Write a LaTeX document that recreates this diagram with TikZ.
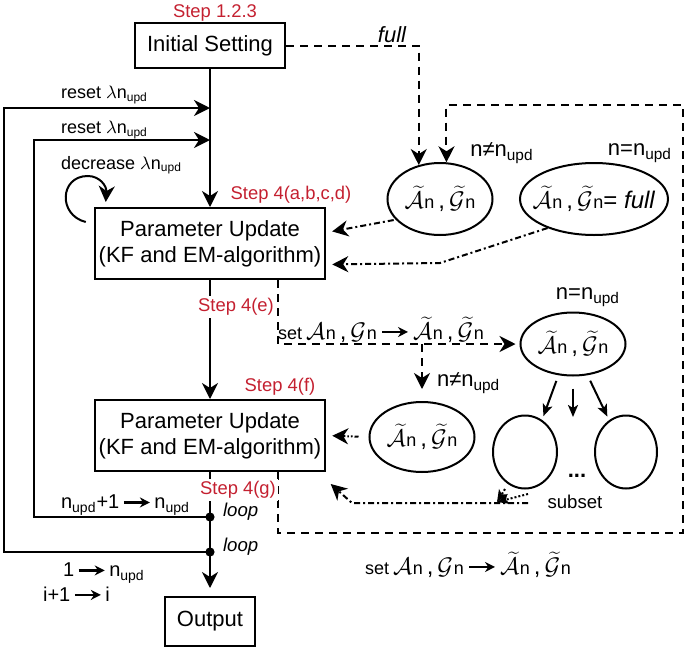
\documentclass[tikz,border=0pt]{standalone}
\usepackage{fontspec}
\setmainfont{Liberation Sans}
\usetikzlibrary{arrows.meta,shapes.geometric,positioning,calc}
\definecolor{stepred}{RGB}{196,32,48}
\newcommand\nupd{n\textsubscript{upd}}
\newcommand\tAn{$\widetilde{\mathcal{A}}$\kern.3pt{\small n}}
\newcommand\tGn{$\widetilde{\mathcal{G}}$\kern.3pt{\small n}}
\newcommand\An{$\mathcal{A}$\kern.3pt{\small n}}
\newcommand\Gn{$\mathcal{G}$\kern.3pt{\small n}}
\newcommand\setarr{\,\tikz[baseline=-0.6ex]\draw[solid,line width=1.2pt,-{Stealth[length=5pt,width=5pt]}] (0pt,0pt) -- (13pt,0pt);\,}
\tikzset{
    flow/.style={line width=1pt,-{Stealth[length=8pt,width=8pt,inset=2.5pt]}},
    smallflow/.style={line width=1pt,-{Stealth[length=6pt,width=5pt,inset=1.5pt]}},
    procbox/.style={draw,line width=1pt,inner sep=2pt,align=center,font=\fontsize{11}{13}\selectfont},
    setell/.style={draw,ellipse,line width=1pt,inner sep=0pt,font=\fontsize{12}{14}\selectfont},
    stepnote/.style={text=stepred,font=\fontsize{9.2}{11}\selectfont},
    sidenote/.style={font=\fontsize{9}{11}\selectfont},
    condnote/.style={font=\fontsize{11}{13}\selectfont},
    dashln/.style={dash pattern=on 4pt off 3pt},
    dashdotln/.style={dash pattern=on 3pt off 1.5pt on 1pt off 1.5pt},
    dashdotdotln/.style={dash pattern=on 2pt off 1pt on 0.8pt off 1pt on 0.8pt off 1pt},
    dotln/.style={dash pattern=on 1pt off 1pt}
}
\begin{document}
\begin{tikzpicture}[x=0.5pt,y=-0.5pt]
    \useasboundingbox (0,0) rectangle (687,649);
    \node[procbox,minimum width=75pt,minimum height=22.5pt] (init) at (210,45.5) {Initial Setting};
    \node[procbox,minimum width=105pt,minimum height=35.5pt] (par1) at (210,243.5) {Parameter Update\\(KF and EM-algorithm)};
    \node[procbox,minimum width=105pt,minimum height=35.5pt] (par2) at (210,435.5) {Parameter Update\\(KF and EM-algorithm)};
    \node[procbox,minimum width=45pt,minimum height=24.5pt] (out) at (210,621.5) {Output};

    \node[setell,minimum width=52.5pt,minimum height=36pt,inner xsep=-3pt] (ell1) at (440,199) {\tAn\,,\,\tGn};
    \node[setell,minimum width=74pt,minimum height=36pt,inner xsep=-9pt] (ell2) at (594,199) {\tAn\,,\,\tGn= \textit{full}};
    \node[setell,minimum width=52.5pt,minimum height=31.5pt,inner xsep=-3pt] (ell3) at (573,344) {\tAn\,,\,\tGn};
    \node[setell,minimum width=52.5pt,minimum height=35pt,inner xsep=-3pt] (ell4) at (422,437) {\tAn\,,\,\tGn};
    \node[setell,minimum width=32pt,minimum height=36.5pt] (sub1) at (525,452) {};
    \node[setell,minimum width=31pt,minimum height=36.5pt] (sub2) at (626,452) {};

    \coordinate (rstA) at (210,108);
    \coordinate (rstB) at (210,140);
    \coordinate (dotA) at (210,517);
    \coordinate (dotB) at (210,552);
    \coordinate (p1tap) at ($(par1.south east)+(-48,0)$);
    \coordinate (p2tap) at ($(par2.south east)+(-48,0)$);
    \coordinate (fork) at (ell4.north |- ell3.west);
    \coordinate (midtip) at (573,417);
    \coordinate (subA) at (505,489);
    \coordinate (subB) at (528,494);
    \coordinate (subtip) at (497,502);
    \coordinate (subR) at (528,503);

    \draw[flow] (init) -- (par1);
    \draw[flow] (par1) -- (par2);
    \draw[line width=1pt] (par2) -- (dotA) -- (dotB);
    \draw[flow,shorten >=4pt] (dotB) -- (out);
    \draw[flow] (dotB) -- (4,552) -- (4,108) -- (rstA);
    \draw[flow] (dotA) -- (34,517) -- (34,140) -- (rstB);
    \fill (dotA) circle[radius=2.3pt];
    \fill (dotB) circle[radius=2.3pt];
    \draw[flow] ($(par1.north west)+(-8,15)$) .. controls ($(par1.north west)+(-36,8)$) and ($(par1.north west)+(-34,-31)$) .. ($(par1.north west)+(-6,-31)$) .. controls ($(par1.north west)+(6,-31)$) and ($(par1.north west)+(13,-21)$) .. ($(par1.north west)+(12,-5)$);

    \draw[flow,dashln] (init.east) -| node[pos=0.4,above,inner sep=1pt,condnote]{\textit{full}} (ell1.122);
    \draw[flow,dashln] (p2tap) |- (683,533) -- (683,105) -| (ell1.80);
    \draw[flow,dashln,shorten >=2pt] (p1tap) |- (ell3.west);
    \draw[flow,dashln,shorten >=6pt] (fork) -- (ell4.north);

    \draw[flow,dashdotln,shorten <=1pt,shorten >=3pt] (ell1.205) -- ($(par1.east)+(0,-11)$);
    \draw[flow,dashdotln,shorten >=3pt] (ell2.212) -- (440,263) -- ($(par1.east)+(0,21)$);
    \draw[flow,dashdotdotln,shorten <=5pt,shorten >=3pt] (ell4.west) -- (par2.east);
    \draw[flow,dashdotln,shorten >=3pt] (subR) -- (352,503) -- ($(par2.south east)+(0,8)$);
    \draw[smallflow,dotln] (subA) -- (subtip);
    \draw[smallflow,dotln] (subB) -- (subtip);

    \draw[smallflow,shorten <=3pt,shorten >=2pt] (ell3.245) -- (sub1.62);
    \draw[smallflow,shorten <=6pt] (ell3.south) -- (midtip);
    \draw[smallflow,shorten <=3pt,shorten >=2pt] (ell3.295) -- (sub2.118);

    \node[stepnote] at (215,13) {Step 1.2.3};
    \node[stepnote] at (291,195) {Step 4(a,b,c,d)};
    \node[stepnote,fill=white,inner sep=1pt] at (236,307) {Step 4(e)};
    \node[stepnote] at (280,387) {Step 4(f)};
    \node[stepnote,fill=white,inner sep=1pt] at (238,490) {Step 4(g)};

    \node[sidenote,anchor=west] at (54,95) {reset $\lambda$\nupd};
    \node[sidenote,anchor=west] at (54,130) {reset $\lambda$\nupd};
    \node[sidenote,anchor=west] at (54,165) {decrease $\lambda$\nupd};
    \node[condnote,anchor=west,font=\fontsize{10}{12}\selectfont] at (54,505) {\nupd+1\setarr\nupd};
    \node[condnote,anchor=west,font=\fontsize{10}{12}\selectfont] at (56,573) {1\setarr\nupd};
    \node[condnote,anchor=west,font=\fontsize{10}{12}\selectfont] at (36,594) {i+1\setarr i};
    \node[sidenote,anchor=west,font=\fontsize{9.3}{11}\itshape] at (216,512) {loop};
    \node[sidenote,anchor=west,font=\fontsize{9.3}{11}\itshape] at (216,547) {loop};

    \node[condnote] at (502,153) {n≠\nupd};
    \node[condnote] at (640,153) {n=\nupd};
    \node[condnote] at (588,297) {n=\nupd};
    \node[condnote,anchor=west] at (430,383) {n≠\nupd};
    \node[condnote,font=\fontsize{12}{14}\selectfont] at (381,330) {{\fontsize{9}{11}\selectfont set}\,\An\,,\,\Gn\setarr\tAn\,,\,\tGn};
    \node[condnote,font=\fontsize{12}{14}\selectfont] at (468,565) {{\fontsize{9}{11}\selectfont set}\,\An\,,\,\Gn\setarr\tAn\,,\,\tGn};
    \node[condnote] at (577,476) {\textbf{...}};
    \node[sidenote,font=\fontsize{9.3}{11}\selectfont] at (575,502) {subset};
\end{tikzpicture}
\end{document}
